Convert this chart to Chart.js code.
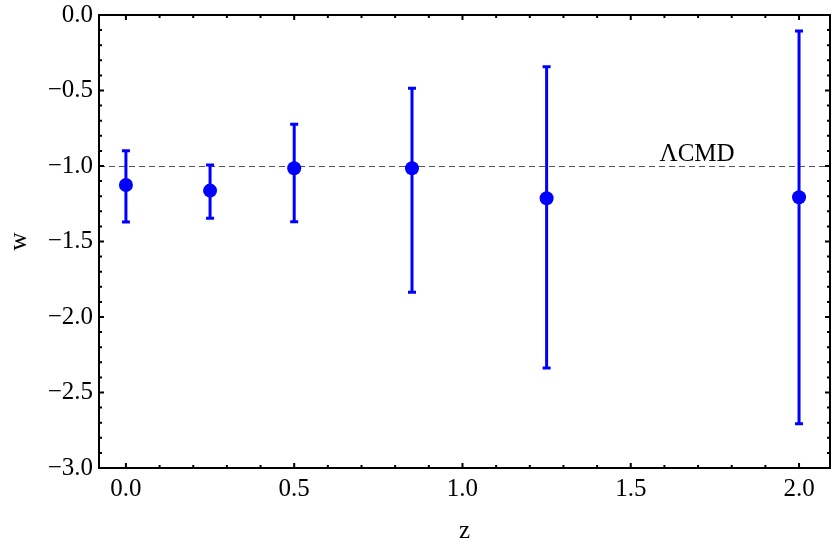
<!DOCTYPE html>
<html>
<head>
<meta charset="utf-8">
<script src="https://cdn.jsdelivr.net/npm/chart.js@4"></script>
<style>
  html, body { margin: 0; padding: 0; background: #fff; }
  #wrap { width: 834px; height: 546px; }
</style>
</head>
<body>
<div id="wrap"><canvas id="c" width="834" height="546"></canvas></div>
<script>
// Data
const zValues   = [0.0, 0.25, 0.5, 0.85, 1.25, 2.0];
const wValues   = [-1.126, -1.163, -1.015, -1.015, -1.214, -1.207];
const wUpper    = [-0.899, -0.993, -0.724, -0.485, -0.342, -0.106];
const wLower    = [-1.371, -1.346, -1.370, -1.836, -2.338, -2.707];
const lcdmW     = -1.0;
const lcdmLabel = 'ΛCMD';
const xLabel = 'z';
const yLabel = 'w';

const FONT = 'Liberation Serif';
const BLUE = '#0000ff';

function fmt(v) {
  const s = Math.abs(v).toFixed(1);
  return (v < -1e-9 ? '\u2212' : '') + s;
}

const framePlugin = {
  id: 'frame',
  beforeDatasetsDraw(chart) {
    const {ctx, chartArea: a, scales: {x, y}} = chart;
    ctx.save();
    ctx.beginPath();
    ctx.setLineDash([6, 4]);
    ctx.strokeStyle = '#555';
    ctx.lineWidth = 1;
    const yl = Math.round(y.getPixelForValue(lcdmW)) + 0.5;
    ctx.moveTo(a.left, yl);
    ctx.lineTo(a.right, yl);
    ctx.stroke();
    ctx.setLineDash([]);
    ctx.fillStyle = '#000';
    ctx.font = '25px "Liberation Serif"';
    ctx.textAlign = 'center';
    ctx.textBaseline = 'alphabetic';
    ctx.fillText(lcdmLabel, x.getPixelForValue(1.697), y.getPixelForValue(-0.967));
    ctx.strokeStyle = BLUE;
    ctx.lineWidth = 3;
    for (let i = 0; i < zValues.length; i++) {
      const px = x.getPixelForValue(zValues[i]);
      const top = y.getPixelForValue(wUpper[i]);
      const bot = y.getPixelForValue(wLower[i]);
      ctx.beginPath();
      ctx.moveTo(px, top);
      ctx.lineTo(px, bot);
      ctx.moveTo(px - 4, top);
      ctx.lineTo(px + 4, top);
      ctx.moveTo(px - 4, bot);
      ctx.lineTo(px + 4, bot);
      ctx.stroke();
    }
    ctx.restore();
  },
  afterDraw(chart) {
    const {ctx, chartArea: a, scales: {x, y}} = chart;
    ctx.save();
    ctx.strokeStyle = '#000';
    ctx.lineWidth = 2;
    ctx.strokeRect(a.left, a.top, a.right - a.left, a.bottom - a.top);
    ctx.beginPath();
    for (let k = Math.ceil(x.min * 10); k <= Math.floor(x.max * 10); k++) {
      const px = x.getPixelForValue(k / 10);
      const len = (k % 5 === 0) ? 5 : 3;
      ctx.moveTo(px, a.bottom);
      ctx.lineTo(px, a.bottom - len);
      ctx.moveTo(px, a.top);
      ctx.lineTo(px, a.top + len);
    }
    for (let k = Math.ceil(y.min * 10); k <= Math.floor(y.max * 10); k++) {
      const py = y.getPixelForValue(k / 10);
      const len = (k % 5 === 0) ? 5 : 3;
      ctx.moveTo(a.left, py);
      ctx.lineTo(a.left + len, py);
      ctx.moveTo(a.right, py);
      ctx.lineTo(a.right - len, py);
    }
    ctx.stroke();
    ctx.restore();
  }
};

new Chart(document.getElementById('c'), {
  type: 'scatter',
  data: {
    datasets: [{
      data: zValues.map((z, i) => ({x: z, y: wValues[i]})),
      backgroundColor: BLUE,
      borderColor: BLUE,
      pointRadius: 7,
      pointHoverRadius: 7,
      borderWidth: 0
    }]
  },
  options: {
    responsive: false,
    animation: false,
    events: [],
    layout: { autoPadding: false, padding: { top: 15, right: 4, left: 0, bottom: 0 } },
    plugins: { legend: { display: false }, tooltip: { enabled: false } },
    scales: {
      x: {
        type: 'linear',
        min: -0.08,
        max: 2.092,
        grid: { display: false, drawTicks: false },
        border: { display: false },
        ticks: {
          stepSize: 0.5,
          includeBounds: false,
          color: '#000',
          padding: 6,
          maxRotation: 0,
          font: { family: FONT, size: 25 },
          callback: v => fmt(v)
        },
        title: {
          display: true, text: xLabel, color: '#000',
          padding: { top: 0, bottom: 0 },
          font: { family: FONT, size: 25 }
        },
        afterFit(s) { s.height = 78; s.paddingLeft = 0; s.paddingRight = 0; }
      },
      y: {
        type: 'linear',
        min: -3,
        max: 0,
        grid: { display: false, drawTicks: false },
        border: { display: false },
        ticks: {
          stepSize: 0.5,
          color: '#000',
          padding: 6,
          font: { family: FONT, size: 25 },
          callback: v => fmt(v)
        },
        title: {
          display: true, text: yLabel, color: '#000',
          padding: { top: 4, bottom: 0 },
          font: { family: FONT, size: 25 }
        },
        afterFit(s) { s.width = 99; s.paddingTop = 0; s.paddingBottom = 0; }
      }
    }
  },
  plugins: [framePlugin]
});
</script>
</body>
</html>
